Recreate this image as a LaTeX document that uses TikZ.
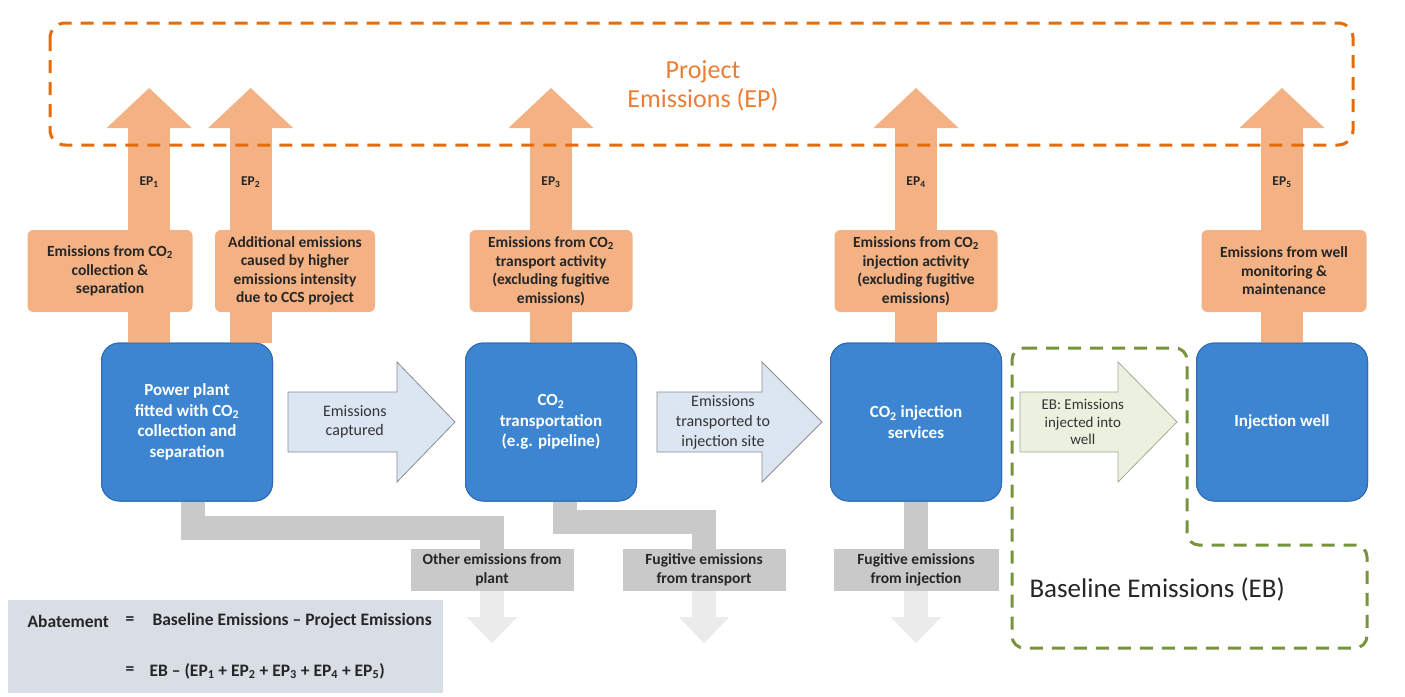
\documentclass[tikz,border=0pt]{standalone}
\usepackage{fontspec}
\setmainfont{Carlito}
\usetikzlibrary{arrows.meta,calc,positioning}

\definecolor{epfill}{HTML}{F4B183}
\definecolor{epline}{HTML}{E46C0A}
\definecolor{eptext}{HTML}{ED7D31}
\definecolor{unitfill}{HTML}{3D85D1}
\definecolor{unitline}{HTML}{2E6BB3}
\definecolor{flowfill}{HTML}{DCE6F2}
\definecolor{ebfill}{HTML}{EBF1DE}
\definecolor{ebline}{HTML}{77933C}
\definecolor{fugfill}{HTML}{C9C9C9}
\definecolor{fugfade}{HTML}{EBEBEB}
\definecolor{abatefill}{HTML}{D9DEE5}

\begin{document}
\begin{tikzpicture}[x=1pt,y=-1pt,
  unit/.style={rectangle,rounded corners=18pt,draw=unitline,line width=1pt,fill=unitfill,
    minimum width=171pt,minimum height=158pt,text=white,align=center,
    font=\fontsize{17}{20.5}\selectfont\bfseries},
  epbox/.style={rectangle,rounded corners=6pt,fill=epfill,minimum width=163pt,
    minimum height=82pt,align=center,text=black!85,
    font=\fontsize{15.5}{18.5}\selectfont\bfseries},
  epup/.style={draw=epfill,line width=42pt,
    -{Triangle[width=85pt,length=40pt,line width=0pt]}},
  eplabel/.style={font=\fontsize{13.5}{15}\selectfont\bfseries,text=black!85},
  fugbox/.style={rectangle,fill=fugfill,minimum width=163pt,minimum height=42pt,
    align=center,text=black!85,font=\fontsize{15.5}{19}\selectfont\bfseries},
  fugbar/.style={draw=fugfill,line width=24pt,line join=miter},
  fugdown/.style={draw=fugfade,line width=24pt,
    -{Triangle[width=50pt,length=26pt,line width=0pt]}},
  flow/.style={draw=black!45,line width=0.8pt,fill=flowfill,line join=miter},
  ebflow/.style={flow,draw=ebline!60!black!50,fill=ebfill},
  flowtext/.style={align=center,text=black!80,font=\fontsize{16}{20}\selectfont},
  zone/.style={line width=3pt,dash pattern=on 13pt off 9pt},
  abatetext/.style={anchor=west,text=black!85,font=\fontsize{17.5}{20}\selectfont\bfseries}
]
\useasboundingbox (0,0) rectangle (1405,696);

% project emissions (EP)
\coordinate (eptips) at (0,88);
\node[text=eptext,align=center,font=\fontsize{26}{29}\selectfont]
  (eptitle) at (703,86) {Project\\Emissions (EP)};

% the four stages
\node[unit] (plant) at (187,422) {};
\node[unit] (transport) at (551,422) {};
\node[unit] (injection) at (916,422) {};
\node[unit] (well) at (1282,422) {};

% upward arrows, drawn behind the boxes
\coordinate (ep1s) at ($(plant.north west)!0.28!(plant.north east)$);
\coordinate (ep2s) at ($(plant.north west)!0.87!(plant.north east)$);
\draw[epup] (ep1s) -- (ep1s |- eptips);
\draw[epup] (ep2s) -- (ep2s |- eptips);
\draw[epup] (transport.north) -- (transport.north |- eptips);
\draw[epup] (injection.north) -- (injection.north |- eptips);
\draw[epup] (well.north) -- (well.north |- eptips);

\node[unit] at (plant) {Power plant\\fitted with CO\textsubscript{2}\\collection and\\separation};
\node[unit] at (transport) {CO\textsubscript{2}\\transportation\\(e.g. pipeline)};
\node[unit] at (injection) {CO\textsubscript{2} injection\\services};
\node[unit] at (well) {Injection well};

\node[eplabel] (ep1) at (ep1s |- 0,182) {EP\textsubscript{1}};
\node[eplabel] (ep2) at (ep2s |- 0,182) {EP\textsubscript{2}};
\node[eplabel] (ep3) at (transport.north |- 0,182) {EP\textsubscript{3}};
\node[eplabel] (ep4) at (injection.north |- 0,182) {EP\textsubscript{4}};
\node[eplabel] (ep5) at (well.north |- 0,182) {EP\textsubscript{5}};

\node[epbox,minimum width=165pt] (ep1box) at (110,271)
  {Emissions from CO\textsubscript{2}\\collection \&\\separation};
\node[epbox,minimum width=160pt] (ep2box) at (295,271)
  {Additional emissions\\caused by higher\\emissions intensity\\due to CCS project};
\node[epbox] (ep3box) at (551,271)
  {Emissions from CO\textsubscript{2}\\transport activity\\(excluding fugitive\\emissions)};
\node[epbox] (ep4box) at (916,271)
  {Emissions from CO\textsubscript{2}\\injection activity\\(excluding fugitive\\emissions)};
\node[epbox,minimum width=165pt] (ep5box) at (1284,271)
  {Emissions from well\\monitoring \&\\maintenance};

\draw[epline,zone,rounded corners=15pt] (50,23) rectangle (1353,145);

% emissions leaving the chain
\node[fugbox] (other) at (492,570) {};
\node[fugbox] (fugt) at (704,570) {};
\node[fugbox,minimum width=165pt] (fugi) at (916,570) {};
\draw[fugbar] ($(plant.south west)!0.535!(plant.south east)$) |- ($(other.north)+(0,-21)$) -- (other.north);
\draw[fugbar] ($(transport.south west)!0.58!(transport.south east)$) |- ($(fugt.north)+(0,-27)$) -- (fugt.north);
\draw[fugbar] (injection.south) -- (fugi.north);
\draw[fugdown] (other.south) -- ++(0,52);
\draw[fugdown] (fugt.south) -- ++(0,52);
\draw[fugdown] (fugi.south) -- ++(0,52);
\node[fugbox] at (other) {Other emissions from\\plant};
\node[fugbox] at (fugt) {Fugitive emissions\\from transport};
\node[fugbox,minimum width=165pt] at (fugi) {Fugitive emissions\\from injection};

% flow of CO2 between the stages
\coordinate (cap0) at ($(plant.east)+(15,0)$);
\coordinate (cap1) at ($(transport.west)+(-10,0)$);
\draw[flow] ($(cap0)+(0,-30)$) -- ($(cap1)+(-58,-30)$) -- ($(cap1)+(-58,-60)$) -- (cap1)
  -- ($(cap1)+(-58,60)$) -- ($(cap1)+(-58,30)$) -- ($(cap0)+(0,30)$) -- cycle;
\node[flowtext,font=\fontsize{16}{19}\selectfont] (captxt) at ($(cap0)!0.4!(cap1)$) {Emissions\\captured};

\coordinate (tra0) at ($(transport.east)+(20,0)$);
\coordinate (tra1) at ($(injection.west)+(-8,0)$);
\draw[flow] ($(tra0)+(0,-30)$) -- ($(tra1)+(-60,-30)$) -- ($(tra1)+(-60,-60)$) -- (tra1)
  -- ($(tra1)+(-60,60)$) -- ($(tra1)+(-60,30)$) -- ($(tra0)+(0,30)$) -- cycle;
\node[flowtext] (tratxt) at ($(tra0)!0.4!(tra1)$) {Emissions\\transported to\\injection site};

\coordinate (inj0) at ($(injection.east)+(18,0)$);
\coordinate (inj1) at ($(well.west)+(-19,0)$);
\draw[ebflow] ($(inj0)+(0,-30)$) -- ($(inj1)+(-59,-30)$) -- ($(inj1)+(-59,-60)$) -- (inj1)
  -- ($(inj1)+(-59,60)$) -- ($(inj1)+(-59,30)$) -- ($(inj0)+(0,30)$) -- cycle;
\node[flowtext,font=\fontsize{15}{17.5}\selectfont] (injtxt) at ($(inj0)!0.4!(inj1)$)
  {EB: Emissions\\injected into\\well};

% baseline emissions (EB)
\draw[ebline,zone,rounded corners=12pt] (1012,348) -- (1187,348) -- (1187,545) -- (1367,545)
  -- (1367,648) -- (1012,648) -- cycle;
\node[anchor=west,text=black!85,font=\fontsize{27}{30}\selectfont] (ebtitle) at (1026,589)
  {Baseline Emissions (EB)};

% abatement
\node[rectangle,fill=abatefill,minimum width=435pt,minimum height=93pt] (abate) at (225.5,646.5) {};
\node[abatetext] (abl) at (24,621) {Abatement};
\node[abatetext] (eq1) at (122,621) {=};
\node[abatetext] (rhs1) at (149,621) {Baseline Emissions -- Project Emissions};
\node[abatetext] (eq2) at (122,671) {=};
\node[abatetext] (rhs2) at (146,671)
  {EB -- (EP\textsubscript{1} + EP\textsubscript{2} + EP\textsubscript{3} + EP\textsubscript{4} + EP\textsubscript{5})};
\end{tikzpicture}
\end{document}
